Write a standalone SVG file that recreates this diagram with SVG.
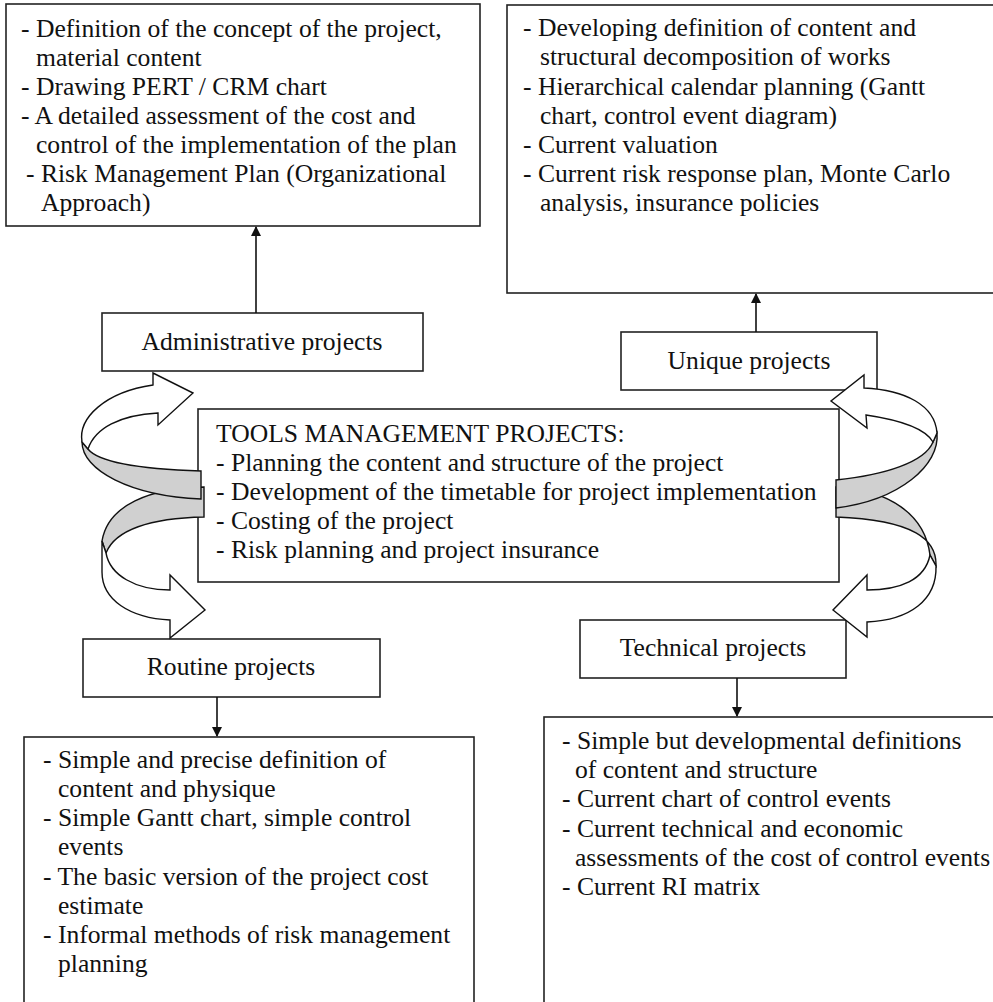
<svg xmlns="http://www.w3.org/2000/svg" width="993" height="1002" viewBox="0 0 993 1002">
<defs>
<style>
.box{fill:#fff;stroke:#222;stroke-width:1.6}
.t{font-family:"Liberation Serif","Times New Roman",serif;font-size:25.6px;fill:#111}
.c{text-anchor:middle}
.ln{stroke:#111;stroke-width:1.6;fill:none}
.w{fill:#fff;stroke:#111;stroke-width:1.4;stroke-linejoin:miter}
.g{fill:#d0d0d0;stroke:#111;stroke-width:1.4}
</style>
<marker id="ah" markerUnits="userSpaceOnUse" markerWidth="10" markerHeight="12" refX="9" refY="5" orient="auto">
<path d="M0,0 L10,5 L0,10 Z" fill="#111"/>
</marker>
</defs>
<rect width="993" height="1002" fill="#fff"/>

<g id="node-admin-details">
<rect class="box" x="6" y="4" width="474" height="222"/>
<text class="t" x="21" y="37">- Definition of the concept of the project,</text>
<text class="t" x="36" y="66">material content</text>
<text class="t" x="21" y="95">- Drawing PERT / CRM chart</text>
<text class="t" x="21" y="124">- A detailed assessment of the cost and</text>
<text class="t" x="36" y="153">control of the implementation of the plan</text>
<text class="t" x="26" y="182">- Risk Management Plan (Organizational</text>
<text class="t" x="41" y="211">Approach)</text>
</g>

<g id="node-unique-details">
<rect class="box" x="507" y="5" width="500" height="288"/>
<text class="t" x="523" y="36">- Developing definition of content and</text>
<text class="t" x="540" y="65">structural decomposition of works</text>
<text class="t" x="523" y="95">- Hierarchical calendar planning (Gantt</text>
<text class="t" x="540" y="124">chart, control event diagram)</text>
<text class="t" x="523" y="153">- Current valuation</text>
<text class="t" x="523" y="182">- Current risk response plan, Monte Carlo</text>
<text class="t" x="540" y="211">analysis, insurance policies</text>
</g>

<g id="node-admin">
<rect class="box" x="102" y="313" width="321" height="58"/>
<text class="t c" x="262" y="350">Administrative projects</text>
</g>

<g id="node-unique">
<rect class="box" x="621" y="332" width="256" height="58"/>
<text class="t c" x="749" y="369">Unique projects</text>
</g>

<g id="node-center">
<rect class="box" x="198" y="409" width="641" height="173"/>
<text class="t" x="216" y="442">TOOLS MANAGEMENT PROJECTS:</text>
<text class="t" x="216" y="471">- Planning the content and structure of the project</text>
<text class="t" x="216" y="500">- Development of the timetable for project implementation</text>
<text class="t" x="216" y="529">- Costing of the project</text>
<text class="t" x="216" y="558">- Risk planning and project insurance</text>
</g>

<g id="node-routine">
<rect class="box" x="83" y="639" width="297" height="58"/>
<text class="t c" x="231" y="675">Routine projects</text>
</g>

<g id="node-technical">
<rect class="box" x="580" y="620" width="266" height="58"/>
<text class="t c" x="713" y="656">Technical projects</text>
</g>

<g id="node-routine-details">
<rect class="box" x="24" y="737" width="450" height="300"/>
<text class="t" x="43" y="768">- Simple and precise definition of</text>
<text class="t" x="58" y="797">content and physique</text>
<text class="t" x="43" y="826">- Simple Gantt chart, simple control</text>
<text class="t" x="58" y="855">events</text>
<text class="t" x="43" y="885">- The basic version of the project cost</text>
<text class="t" x="58" y="914">estimate</text>
<text class="t" x="43" y="943">- Informal methods of risk management</text>
<text class="t" x="58" y="972">planning</text>
</g>

<g id="node-technical-details">
<rect class="box" x="544" y="717" width="500" height="320"/>
<text class="t" x="562" y="749">- Simple but developmental definitions</text>
<text class="t" x="575" y="778">of content and structure</text>
<text class="t" x="562" y="807">- Current chart of control events</text>
<text class="t" x="562" y="837">- Current technical and economic</text>
<text class="t" x="575" y="866">assessments of the cost of control events</text>
<text class="t" x="562" y="895">- Current RI matrix</text>
</g>

<g id="connectors">
<line class="ln" x1="256" y1="313" x2="256" y2="227" marker-end="url(#ah)"/>
<line class="ln" x1="756" y1="332" x2="756" y2="294" marker-end="url(#ah)"/>
<line class="ln" x1="217" y1="697" x2="217" y2="736" marker-end="url(#ah)"/>
<line class="ln" x1="737" y1="678" x2="737" y2="716" marker-end="url(#ah)"/>

<path class="g" d="M204,487 C150,488 108,505 102,541 L106,553 C115,530 150,518 204,517 Z"/>
<path class="w" d="M102,541 L102,572 C102,600 130,618 170,620 L170,638 L205,610 L170,575 L170,590 C135,590 110,575 106,553 Z"/>
<path class="g" d="M82,442 C82,470 130,496 201,499 L201,471 C140,469 98,462 88,449 Z"/>
<path class="w" d="M82,442 C78,418 105,392 153,385 L153,373 L193,393 L158,425 L158,413 C120,415 95,428 88,449 Z"/>

<path class="g" d="M836,487 C890,490 925,515 930,555 L936,566 C937,540 915,520 836,517 Z"/>
<path class="w" d="M930,555 C925,580 900,590 867,590 L867,575 L833,610 L867,637 L867,622 C910,620 937,600 936,566 Z"/>
<path class="g" d="M937,433 C940,465 900,500 836,508 L836,480 C885,475 925,462 933,442 Z"/>
<path class="w" d="M937,433 C935,405 905,390 864,388 L864,375 L831,401 L867,428 L866,415 C900,420 925,428 933,442 Z"/>
</g>
</svg>
